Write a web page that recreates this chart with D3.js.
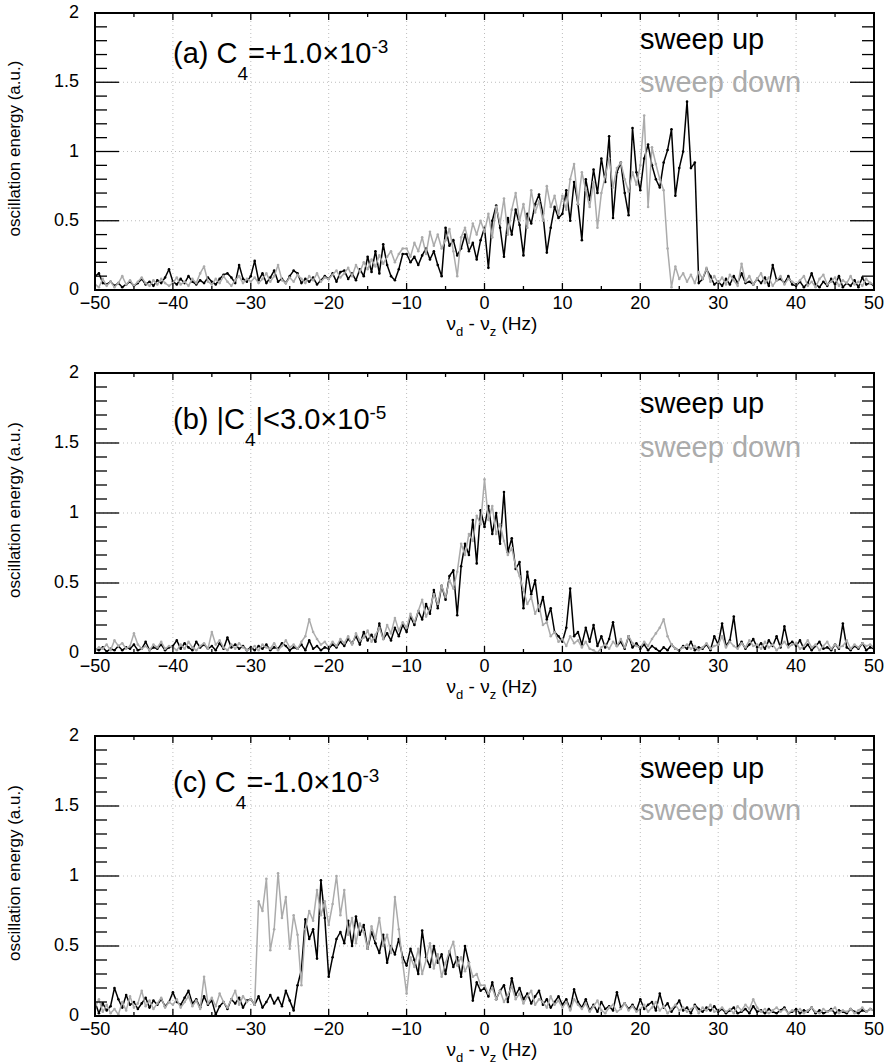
<!DOCTYPE html>
<html>
<head>
<meta charset="utf-8">
<script src="https://cdn.jsdelivr.net/npm/d3@7/dist/d3.min.js"></script>
<style>
  body { margin: 0; background: #fff; }
  text { font-family: "Liberation Sans", Arial, Helvetica, sans-serif; }
</style>
</head>
<body>
<div id="chart"></div>
<script>
// frequency grid of the sweeps (Hz), one reading every 0.5 Hz
var freqStart = -50, freqStep = 0.5;
var xTicks = [-50, -40, -30, -20, -10, 0, 10, 20, 30, 40, 50];
var yTicks = [0, 0.5, 1, 1.5, 2];
var legendNames = ["sweep up", "sweep down"];

// panel labels: [text, subscript, text, superscript]
var labelA = ["(a) C", "4", "=+1.0\u00d710", "-3"];
var labelB = ["(b) |C", "4", "|<3.0\u00d710", "-5"];
var labelC = ["(c) C", "4", "=-1.0\u00d710", "-3"];

// (a) C4 = +1.0e-3
var sweepUpA = [
  0.10,0.12,0.05,0.04,0.06,0.03,0.05,0.02,0.04,0.06, 0.03,0.05,0.08,0.04,0.06,0.03,0.07,0.05,0.09,0.15,
  0.06,0.04,0.08,0.05,0.10,0.06,0.04,0.07,0.05,0.09, 0.06,0.04,0.08,0.11,0.12,0.09,0.05,0.18,0.08,0.06,
  0.10,0.21,0.07,0.12,0.05,0.09,0.14,0.06,0.08,0.05, 0.10,0.14,0.12,0.05,0.08,0.06,0.09,0.04,0.07,0.10,
  0.08,0.12,0.06,0.13,0.14,0.08,0.12,0.07,0.15,0.10, 0.24,0.13,0.28,0.12,0.33,0.18,0.10,0.07,0.15,0.26,
  0.26,0.20,0.24,0.18,0.25,0.30,0.22,0.28,0.18,0.10, 0.45,0.32,0.36,0.25,0.30,0.40,0.28,0.34,0.22,0.36,
  0.45,0.16,0.50,0.61,0.45,0.24,0.52,0.40,0.58,0.47, 0.25,0.55,0.48,0.62,0.69,0.55,0.27,0.45,0.60,0.52,
  0.55,0.72,0.50,0.78,0.62,0.36,0.80,0.65,0.87,0.70, 0.95,0.78,1.11,0.52,0.85,0.92,0.70,0.54,1.17,0.85,
  0.72,0.95,1.05,0.90,0.80,0.74,0.92,1.01,1.16,0.68, 0.88,1.00,1.36,0.88,0.92,0.05,0.08,0.15,0.10,0.04,
  0.06,0.03,0.08,0.04,0.10,0.05,0.12,0.05,0.06,0.04, 0.08,0.05,0.09,0.03,0.18,0.07,0.08,0.05,0.10,0.04,
  0.03,0.06,0.02,0.05,0.12,0.04,0.02,0.06,0.03,0.08, 0.04,0.10,0.02,0.05,0.03,0.07,0.02,0.09,0.04,0.05,
  0.03
];
var sweepDownA = [
  0.04,0.02,0.08,0.03,0.06,0.02,0.05,0.10,0.04,0.07, 0.03,0.06,0.09,0.05,0.03,0.07,0.04,0.08,0.05,0.03,
  0.05,0.09,0.04,0.06,0.03,0.08,0.05,0.12,0.17,0.06, 0.04,0.08,0.05,0.10,0.06,0.03,0.07,0.10,0.05,0.08,
  0.06,0.09,0.05,0.08,0.12,0.06,0.10,0.18,0.07,0.05, 0.09,0.06,0.11,0.08,0.05,0.10,0.07,0.12,0.06,0.09,
  0.08,0.11,0.14,0.09,0.12,0.16,0.10,0.18,0.13,0.20, 0.15,0.22,0.17,0.25,0.19,0.24,0.28,0.20,0.26,0.30,
  0.30,0.24,0.34,0.28,0.38,0.26,0.42,0.32,0.40,0.30, 0.36,0.44,0.28,0.10,0.38,0.45,0.34,0.48,0.40,0.50,
  0.42,0.55,0.38,0.60,0.48,0.66,0.40,0.58,0.70,0.50, 0.62,0.45,0.72,0.56,0.64,0.50,0.75,0.60,0.68,0.55,
  0.68,0.58,0.80,0.91,0.62,0.85,0.72,0.60,0.78,0.45, 0.70,0.82,0.95,0.74,0.88,0.92,0.80,0.71,0.85,0.76,
  0.90,1.26,0.60,1.03,0.91,0.80,0.72,0.30,0.02,0.17, 0.08,0.12,0.06,0.11,0.05,0.13,0.08,0.16,0.06,0.10,
  0.05,0.09,0.04,0.11,0.07,0.03,0.19,0.06,0.10,0.04, 0.08,0.12,0.05,0.09,0.03,0.07,0.10,0.04,0.08,0.06,
  0.04,0.07,0.10,0.03,0.06,0.02,0.08,0.11,0.04,0.06, 0.09,0.03,0.07,0.05,0.10,0.04,0.06,0.03,0.08,0.05,
  0.04
];

// (b) |C4| < 3.0e-5
var sweepUpB = [
  0.03,0.02,0.04,0.01,0.03,0.02,0.05,0.02,0.04,0.03, 0.06,0.02,0.03,0.08,0.02,0.04,0.03,0.06,0.02,0.04,
  0.05,0.09,0.03,0.07,0.04,0.02,0.08,0.04,0.06,0.03, 0.05,0.02,0.07,0.03,0.11,0.04,0.06,0.03,0.05,0.02,
  0.04,0.02,0.05,0.03,0.06,0.02,0.04,0.03,0.07,0.05, 0.02,0.04,0.03,0.06,0.02,0.09,0.03,0.05,0.02,0.04,
  0.03,0.06,0.04,0.08,0.05,0.10,0.07,0.12,0.06,0.15, 0.09,0.13,0.08,0.21,0.10,0.14,0.09,0.18,0.12,0.20,
  0.15,0.26,0.20,0.30,0.24,0.35,0.28,0.45,0.32,0.48, 0.38,0.55,0.59,0.27,0.62,0.78,0.70,0.95,0.64,1.02,
  0.90,1.05,0.85,1.00,0.78,1.15,0.72,0.82,0.60,0.65, 0.32,0.58,0.42,0.52,0.30,0.40,0.24,0.32,0.15,0.12,
  0.08,0.18,0.46,0.12,0.15,0.06,0.18,0.08,0.20,0.05, 0.12,0.04,0.10,0.22,0.05,0.08,0.03,0.12,0.04,0.07,
  0.03,0.06,0.02,0.05,0.03,0.01,0.04,0.02,0.06,0.03, 0.02,0.05,0.03,0.08,0.02,0.04,0.03,0.06,0.02,0.12,
  0.06,0.21,0.05,0.09,0.26,0.04,0.08,0.03,0.06,0.10, 0.04,0.07,0.03,0.09,0.05,0.12,0.04,0.19,0.06,0.08,
  0.05,0.09,0.03,0.06,0.02,0.05,0.08,0.03,0.04,0.02, 0.06,0.03,0.21,0.04,0.02,0.05,0.03,0.07,0.02,0.04,
  0.03
];
var sweepDownB = [
  0.02,0.04,0.03,0.06,0.02,0.09,0.05,0.07,0.03,0.05, 0.14,0.06,0.03,0.05,0.02,0.06,0.04,0.08,0.03,0.05,
  0.04,0.02,0.06,0.03,0.08,0.04,0.02,0.05,0.07,0.03, 0.15,0.06,0.09,0.04,0.02,0.06,0.03,0.07,0.04,0.02,
  0.03,0.05,0.02,0.06,0.04,0.03,0.07,0.02,0.05,0.09, 0.04,0.06,0.03,0.08,0.12,0.24,0.15,0.10,0.06,0.08,
  0.04,0.08,0.05,0.10,0.07,0.12,0.06,0.14,0.09,0.11, 0.16,0.08,0.13,0.18,0.10,0.20,0.14,0.25,0.16,0.22,
  0.18,0.28,0.22,0.30,0.38,0.26,0.32,0.42,0.35,0.48, 0.40,0.52,0.46,0.58,0.78,0.70,0.85,0.80,0.98,0.92,
  1.24,0.95,1.05,0.85,0.92,0.80,0.70,0.75,0.62,0.55, 0.45,0.35,0.40,0.28,0.34,0.20,0.22,0.12,0.15,0.08,
  0.10,0.05,0.12,0.07,0.09,0.04,0.08,0.03,0.02,0.00, 0.04,0.06,0.03,0.08,0.05,0.10,0.04,0.12,0.07,0.05,
  0.04,0.08,0.05,0.10,0.14,0.18,0.24,0.12,0.06,0.03, 0.02,0.04,0.06,0.03,0.05,0.02,0.04,0.07,0.03,0.05,
  0.06,0.12,0.04,0.08,0.05,0.03,0.07,0.04,0.09,0.05, 0.06,0.03,0.08,0.04,0.06,0.02,0.05,0.08,0.04,0.06,
  0.07,0.03,0.05,0.09,0.04,0.06,0.02,0.05,0.08,0.03, 0.06,0.04,0.05,0.09,0.03,0.06,0.04,0.07,0.05,0.06,
  0.04
];

// (c) C4 = -1.0e-3
var sweepUpC = [
  0.10,0.02,0.09,0.04,0.07,0.20,0.12,0.06,0.15,0.08, 0.10,0.05,0.09,0.13,0.06,0.11,0.08,0.12,0.07,0.10,
  0.17,0.10,0.08,0.13,0.18,0.09,0.12,0.06,0.14,0.08, 0.11,0.01,0.07,0.10,0.05,0.12,0.09,0.13,0.06,0.11,
  0.12,0.08,0.14,0.06,0.10,0.15,0.09,0.13,0.07,0.18, 0.11,0.04,0.22,0.33,0.69,0.55,0.62,0.41,0.97,0.70,
  0.28,0.42,0.55,0.60,0.52,0.68,0.50,0.71,0.58,0.65, 0.48,0.60,0.52,0.45,0.58,0.38,0.50,0.44,0.55,0.42,
  0.36,0.48,0.40,0.30,0.61,0.42,0.35,0.50,0.38,0.44, 0.30,0.46,0.35,0.42,0.28,0.50,0.38,0.11,0.24,0.18,
  0.20,0.14,0.24,0.12,0.18,0.22,0.10,0.27,0.15,0.20, 0.12,0.16,0.09,0.14,0.18,0.08,0.12,0.06,0.10,0.14,
  0.08,0.12,0.05,0.19,0.10,0.06,0.12,0.04,0.08,0.03, 0.10,0.05,0.07,0.04,0.17,0.06,0.09,0.05,0.08,0.04,
  0.12,0.05,0.08,0.10,0.04,0.16,0.06,0.09,0.03,0.07, 0.11,0.04,0.06,0.02,0.08,0.05,0.03,0.06,0.04,0.07,
  0.03,0.05,0.02,0.04,0.06,0.02,0.03,0.05,0.02,0.07, 0.03,0.04,0.02,0.05,0.03,0.02,0.04,0.06,0.02,0.03,
  0.05,0.02,0.04,0.03,0.06,0.02,0.04,0.02,0.03,0.05, 0.02,0.04,0.03,0.02,0.05,0.03,0.02,0.04,0.03,0.05,
  0.04
];
var sweepDownC = [
  0.06,0.12,0.03,0.08,0.02,0.05,0.01,0.10,0.04,0.14, 0.06,0.09,0.18,0.07,0.11,0.05,0.09,0.13,0.06,0.10,
  0.08,0.12,0.06,0.10,0.14,0.07,0.11,0.05,0.28,0.09, 0.13,0.07,0.16,0.10,0.06,0.12,0.18,0.08,0.14,0.10,
  0.12,0.08,0.82,0.75,0.98,0.47,0.62,1.02,0.70,0.85, 0.48,0.72,0.58,0.22,0.62,0.75,0.68,0.90,0.72,0.82,
  0.65,0.80,1.00,0.72,0.90,0.58,0.70,0.52,0.66,0.60, 0.48,0.64,0.55,0.70,0.50,0.58,0.45,0.85,0.62,0.38,
  0.16,0.42,0.35,0.48,0.30,0.40,0.52,0.34,0.44,0.28, 0.38,0.46,0.53,0.36,0.42,0.32,0.38,0.28,0.30,0.22,
  0.22,0.16,0.20,0.12,0.18,0.10,0.15,0.21,0.12,0.16, 0.09,0.14,0.18,0.08,0.12,0.10,0.06,0.14,0.08,0.11,
  0.06,0.10,0.04,0.12,0.08,0.05,0.09,0.03,0.07,0.11, 0.04,0.02,0.06,0.08,0.03,0.05,0.09,0.04,0.07,0.03,
  0.05,0.08,0.03,0.06,0.10,0.04,0.07,0.02,0.05,0.08, 0.04,0.06,0.03,0.05,0.07,0.02,0.06,0.04,0.08,0.03,
  0.04,0.06,0.03,0.05,0.02,0.07,0.04,0.08,0.05,0.12, 0.06,0.03,0.05,0.02,0.04,0.06,0.03,0.05,0.02,0.04,
  0.03,0.05,0.02,0.04,0.06,0.03,0.02,0.05,0.03,0.04, 0.06,0.02,0.04,0.03,0.05,0.02,0.04,0.06,0.03,0.05,
  0.04
];

// layout of the three stacked pads
var width = 884, height = 1064;
var plotLeft = 95, plotRight = 874;
var pads = [
  {top: 13,  bottom: 290,  up: sweepUpA, down: sweepDownA, label: labelA, labelY: 50, legY: [36, 79]},
  {top: 373, bottom: 653,  up: sweepUpB, down: sweepDownB, label: labelB, labelY: 56, legY: [40, 84]},
  {top: 736, bottom: 1016, up: sweepUpC, down: sweepDownC, label: labelC, labelY: 56, legY: [42, 84]}
];
var upColor = "#000", downColor = "#ababab";

var svg = d3.select("#chart")
  .append("svg")
    .attr("width", width)
    .attr("height", height);

var x = d3.scaleLinear()
  .domain([-50, 50])
  .range([plotLeft, plotRight]);

var fmtX = function(d) { return d < 0 ? "\u2212" + Math.abs(d) : String(d); };

pads.forEach(function(p, k) {
  var y = d3.scaleLinear()
    .domain([0, 2])
    .range([p.bottom, p.top]);

  var g = svg.append("g");

  // clip for the traces
  g.append("clipPath")
    .attr("id", "clip" + k)
    .append("rect")
      .attr("x", plotLeft)
      .attr("y", p.top)
      .attr("width", plotRight - plotLeft)
      .attr("height", p.bottom - p.top);

  // dotted grid
  g.selectAll(".gx")
    .data(xTicks.slice(1, -1))
    .enter().append("line")
      .attr("x1", d => x(d)).attr("x2", d => x(d))
      .attr("y1", p.top).attr("y2", p.bottom)
      .attr("stroke", "#bdbdbd").attr("stroke-width", 1)
      .attr("stroke-dasharray", "1,3");
  g.selectAll(".gy")
    .data(yTicks.slice(1, -1))
    .enter().append("line")
      .attr("x1", plotLeft).attr("x2", plotRight)
      .attr("y1", d => y(d)).attr("y2", d => y(d))
      .attr("stroke", "#bdbdbd").attr("stroke-width", 1)
      .attr("stroke-dasharray", "1,3");

  // traces
  var series = [
    {vals: p.up, color: upColor},
    {vals: p.down, color: downColor}
  ];
  var line = d3.line()
    .x((d, i) => x(freqStart + i * freqStep))
    .y(d => y(d));

  var tg = g.append("g").attr("clip-path", "url(#clip" + k + ")");
  series.forEach(function(s) {
    tg.append("path")
      .datum(s.vals)
      .attr("fill", "none")
      .attr("stroke", s.color)
      .attr("stroke-width", 1.5)
      .attr("stroke-linejoin", "round")
      .attr("d", line);
    tg.selectAll(null)
      .data(s.vals)
      .enter().append("circle")
        .attr("cx", (d, i) => x(freqStart + i * freqStep))
        .attr("cy", d => y(d))
        .attr("r", 1.3)
        .attr("fill", s.color);
  });

  // frame
  g.append("rect")
    .attr("x", plotLeft).attr("y", p.top)
    .attr("width", plotRight - plotLeft).attr("height", p.bottom - p.top)
    .attr("fill", "none")
    .attr("stroke", "#000")
    .attr("stroke-width", 2);

  // x axis ticks (inside, bottom and top)
  var xMinor = d3.range(-45, 50, 10);
  [[xTicks, 7], [xMinor, 4]].forEach(function(t) {
    g.selectAll(null).data(t[0]).enter().append("line")
      .attr("x1", d => x(d)).attr("x2", d => x(d))
      .attr("y1", p.bottom).attr("y2", p.bottom - t[1])
      .attr("stroke", "#000").attr("stroke-width", 1.3);
    g.selectAll(null).data(t[0]).enter().append("line")
      .attr("x1", d => x(d)).attr("x2", d => x(d))
      .attr("y1", p.top).attr("y2", p.top + t[1])
      .attr("stroke", "#000").attr("stroke-width", 1.3);
  });

  // y axis ticks (inside, left and right)
  var yMinor = d3.range(0.1, 2, 0.1).filter(v => Math.abs(v * 2 - Math.round(v * 2)) > 1e-6);
  [[yTicks, 24], [yMinor, 12]].forEach(function(t) {
    g.selectAll(null).data(t[0]).enter().append("line")
      .attr("x1", plotLeft).attr("x2", plotLeft + t[1])
      .attr("y1", d => y(d)).attr("y2", d => y(d))
      .attr("stroke", "#000").attr("stroke-width", 1.3);
    g.selectAll(null).data(t[0]).enter().append("line")
      .attr("x1", plotRight).attr("x2", plotRight - t[1])
      .attr("y1", d => y(d)).attr("y2", d => y(d))
      .attr("stroke", "#000").attr("stroke-width", 1.3);
  });

  // tick labels
  g.selectAll(null).data(xTicks).enter().append("text")
    .attr("x", d => x(d))
    .attr("y", p.bottom + 19)
    .attr("text-anchor", "middle")
    .style("font-size", "18px")
    .text(fmtX);
  g.selectAll(null).data(yTicks).enter().append("text")
    .attr("x", plotLeft - 16)
    .attr("y", d => y(d) + 5)
    .attr("text-anchor", "end")
    .style("font-size", "18px")
    .text(d => String(d));

  // axis titles
  var xt = g.append("text")
    .attr("x", 492)
    .attr("y", p.bottom + 40)
    .attr("text-anchor", "middle")
    .style("font-size", "19px");
  xt.append("tspan").text("\u03bd");
  xt.append("tspan").attr("dy", 6).style("font-size", "13px").text("d");
  xt.append("tspan").attr("dy", -6).text(" - \u03bd");
  xt.append("tspan").attr("dy", 6).style("font-size", "13px").text("z");
  xt.append("tspan").attr("dy", -6).text(" (Hz)");

  g.append("text")
    .attr("transform", "translate(20," + ((p.top + p.bottom) / 2 - 3) + ") rotate(-90)")
    .attr("text-anchor", "middle")
    .style("font-size", "17px")
    .text("oscillation energy (a.u.)");

  // panel label with subscript and superscript
  var lt = g.append("text")
    .attr("x", 173)
    .attr("y", p.top + p.labelY)
    .style("font-size", "29px");
  lt.append("tspan").text(p.label[0]);
  lt.append("tspan").attr("dy", 17).style("font-size", "19px").text(p.label[1]);
  lt.append("tspan").attr("dy", -17).text(p.label[2]);
  lt.append("tspan").attr("dy", -10).style("font-size", "19px").text(p.label[3]);

  // legend
  g.selectAll(null).data(legendNames).enter().append("text")
    .attr("x", 640)
    .attr("y", (d, i) => p.top + p.legY[i])
    .style("font-size", "29px")
    .attr("fill", (d, i) => i === 0 ? upColor : downColor)
    .text(d => d);
});
</script>
</body>
</html>
